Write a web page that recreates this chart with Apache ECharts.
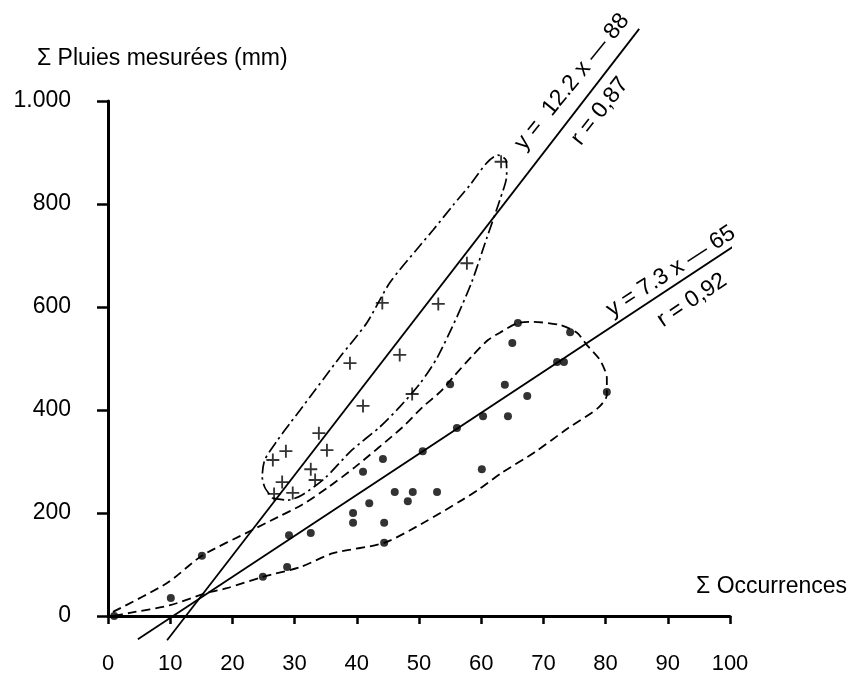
<!DOCTYPE html>
<html>
<head>
<meta charset="utf-8">
<script src="https://cdn.jsdelivr.net/npm/echarts@6/dist/echarts.min.js"></script>
<style>
  html, body { margin: 0; padding: 0; background: #fff; }
  #chart { width: 850px; height: 675px; }
</style>
</head>
<body>
<div id="chart"></div>
<script>
// ---------- data ----------
const xTickValues = [0, 10, 20, 30, 40, 50, 60, 70, 80, 90, 100];
const yTickLabels = ['0', '200', '400', '600', '800', '1.000'];

const xTitle = 'Σ Occurrences';
const yTitle = 'Σ Pluies mesurées (mm)';

// group 1 : filled dots  [occurrences, rain]
const dotsData = [
  [1, 0], [10.1, 35], [15.1, 117], [24.9, 76], [28.8, 95], [29.1, 157],
  [32.6, 161], [39.4, 200], [39.4, 181], [41.0, 280], [42.0, 219],
  [44.2, 305], [44.4, 181], [44.4, 142], [46.1, 241], [48.2, 223],
  [49.0, 241], [50.6, 320], [52.9, 241], [55.0, 450], [56.1, 365],
  [60.1, 285], [60.3, 388], [63.8, 449], [64.3, 388], [65.0, 530],
  [65.9, 569], [67.4, 427], [72.2, 493], [73.3, 493], [74.3, 551],
  [80.2, 435]
];
// open circle
const openDotData = [[46.0, 307]];

// group 2 : crosses
const crossData = [
  [26.5, 303], [28.6, 320], [28.0, 260], [26.7, 237], [29.7, 239],
  [33.9, 355], [35.2, 322], [32.6, 285], [33.3, 264], [38.9, 491],
  [41.0, 408], [46.9, 507], [48.9, 431], [44.1, 608], [53.1, 606],
  [57.7, 685], [63.2, 882]
];

// regression lines as drawn (end points)
const lineCrosses = [[9.5, -47], [85.4, 1140]];   // y = 12.2 x - 88
const lineDots = [[4.8, -45], [105, 753]];        // y = 7.3 x - 65

// hand-drawn envelopes
const envelopeDots = [
  [0.8, 8], [9.5, 64], [15.1, 117], [23.2, 167], [27.3, 192], [31.2, 216],
  [35.4, 250], [39.7, 289], [47.4, 367], [50.6, 406], [53.4, 435],
  [55.5, 464], [58.7, 507], [61.1, 536], [63.0, 550], [65.9, 569],
  [68.3, 571], [72.7, 565], [75.4, 550], [77.0, 526], [79.1, 497],
  [80.2, 462], [80.2, 429], [78.8, 404], [74.0, 365], [68.6, 318],
  [63.3, 278], [59.5, 245], [56.9, 225], [51.0, 183], [44.4, 142],
  [36.2, 122], [30.9, 95], [24.9, 76], [19.1, 54], [15.9, 45],
  [10.0, 21], [3.5, 6], [0.8, 0]
];
const envelopeCrosses = [
  [26.4, 229], [28.9, 225], [31.2, 235], [34.9, 268], [39.2, 322],
  [43.7, 367], [46.9, 406], [50.2, 452], [52.9, 501], [56.1, 581],
  [58.5, 649], [60.9, 734], [63.0, 808], [64.1, 856], [64.0, 885],
  [62.7, 895], [60.9, 880], [58.2, 837], [55.5, 798], [52.3, 750],
  [50.2, 720], [45.3, 647], [41.6, 569], [37.3, 503], [30.9, 400],
  [29.3, 375], [27.3, 342], [25.2, 303], [24.8, 270], [25.2, 250],
  [26.4, 229]
];

// annotation texts and their anchor (data coords)
const annotTexts = ['y =  12.2 x — 88', 'r = 0,87', 'y = 7.3 x — 65', 'r = 0,92'];
const annotAnchors = [[74.6, 1037], [79.1, 980], [90.5, 669], [93.9, 613]];
const annotAngles = [51, 52, 33, 34];

// ---------- chart ----------
const FONT = '"Liberation Sans", Arial, Helvetica, sans-serif';
const chart = echarts.init(document.getElementById('chart'), null, { renderer: 'canvas' });

const crossSymbol = 'path://M0,10.3L24,10.3L24,13.7L0,13.7Z M10.3,0L13.7,0L13.7,24L10.3,24Z';

const option = {
  animation: false,
  backgroundColor: '#fff',
  textStyle: { fontFamily: FONT, color: '#000' },
  grid: { left: 108, right: 120, top: 101, bottom: 59, containLabel: false },
  xAxis: {
    type: 'value', min: 0, max: 100, interval: 10,
    axisLine: { show: true, onZero: false, lineStyle: { color: '#000', width: 3 } },
    axisTick: { show: true, length: 8, lineStyle: { color: '#000', width: 2.5 } },
    axisLabel: { color: '#000', fontSize: 22, fontFamily: FONT, margin: 37,
      formatter: v => (xTickValues.indexOf(v) >= 0 ? String(v) : '') },
    splitLine: { show: false }
  },
  yAxis: {
    type: 'value', min: 0, max: 1000, interval: 200,
    axisLine: { show: true, onZero: false, lineStyle: { color: '#000', width: 3 } },
    axisTick: { show: true, length: 11, lineStyle: { color: '#000', width: 2.5 } },
    axisLabel: { color: '#000', fontSize: 23, fontFamily: FONT, margin: 37,
      formatter: v => yTickLabels[Math.round(v / 200)] },
    splitLine: { show: false }
  },
  series: [
    {
      type: 'line', data: envelopeDots, showSymbol: false, smooth: 0.25, clip: false, silent: true,
      lineStyle: { color: '#000', width: 1.8, type: [9, 5] }, z: 2
    },
    {
      type: 'line', data: envelopeCrosses, showSymbol: false, smooth: 0.25, clip: false, silent: true,
      lineStyle: { color: '#000', width: 1.7, type: [12, 4, 2.5, 4] }, z: 2
    },
    {
      type: 'line', data: lineCrosses, showSymbol: false, clip: false, silent: true,
      lineStyle: { color: '#000', width: 1.8 }, z: 3
    },
    {
      type: 'line', data: lineDots, showSymbol: false, clip: false, silent: true,
      lineStyle: { color: '#000', width: 1.8 }, z: 3
    },
    {
      type: 'scatter', data: dotsData, symbol: 'circle', symbolSize: 8,
      itemStyle: { color: '#000' }, z: 5
    },
    {
      type: 'scatter', data: openDotData, symbol: 'emptyCircle', symbolSize: 7,
      itemStyle: { color: '#fff', borderColor: '#000', borderWidth: 1.8 }, z: 5
    },
    {
      type: 'scatter', data: crossData, symbol: crossSymbol, symbolSize: 13,
      itemStyle: { color: '#000' }, z: 5
    }
  ],
  graphic: []
};
chart.setOption(option);

// Titles and rotated annotations
const graphics = [
  { type: 'text', left: 37, top: 47, style: { text: yTitle, font: '23px ' + FONT, fill: '#000' } },
  { type: 'text', right: 3, top: 575, style: { text: xTitle, font: '23px ' + FONT, fill: '#000' } }
];
annotTexts.forEach((t, i) => {
  const p = chart.convertToPixel({ gridIndex: 0 }, annotAnchors[i]);
  graphics.push({
    type: 'text', x: p[0], y: p[1], rotation: annotAngles[i] * Math.PI / 180,
    style: { text: t, font: '23px ' + FONT, fill: '#000', align: 'center', verticalAlign: 'middle' }
  });
});
chart.setOption({ graphic: graphics });
</script>
</body>
</html>
